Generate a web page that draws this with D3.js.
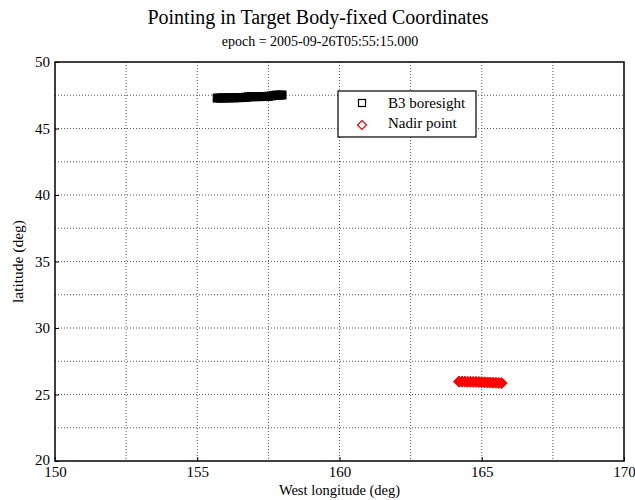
<!DOCTYPE html>
<html>
<head>
<meta charset="utf-8">
<script src="https://cdn.jsdelivr.net/npm/d3@7"></script>
<style>
  body { margin: 0; background: #fff; }
  svg { font-family: "Liberation Serif", "Times New Roman", serif; }
  .grid line { stroke: #555; stroke-dasharray: 1,2; }
  .axis path, .axis line { stroke: #000; }
</style>
</head>
<body>
<div id="chart"></div>
<script>
// B3 boresight track
const b3Lon = [155.70, 155.80, 155.90, 156.00, 156.10, 156.20, 156.30, 156.40, 156.50, 156.60, 156.70, 156.80,
  156.90, 157.00, 157.10, 157.20, 157.30, 157.40, 157.50, 157.60, 157.70, 157.80, 157.90, 157.98];
const b3Lat = [47.29, 47.29, 47.30, 47.30, 47.30, 47.31, 47.31, 47.32, 47.32, 47.33, 47.35, 47.38,
  47.39, 47.39, 47.40, 47.40, 47.40, 47.41, 47.42, 47.45, 47.49, 47.51, 47.51, 47.52];

// nadir point track
const nadirLon = [164.20, 164.30, 164.40, 164.50, 164.60, 164.70, 164.80, 164.90, 165.00, 165.10,
  165.20, 165.30, 165.40, 165.50, 165.60, 165.70];
const nadirLat = [25.97, 25.97, 25.97, 25.96, 25.96, 25.95, 25.95, 25.94, 25.93, 25.92,
  25.91, 25.90, 25.89, 25.88, 25.87, 25.86];

const xTicks = [150, 155, 160, 165, 170];
const yTicks = [20, 25, 30, 35, 40, 45, 50];
const xGrid = [152.5, 155, 157.5, 160, 162.5, 165, 167.5];
const yGrid = [22.5, 25, 27.5, 30, 32.5, 35, 37.5, 40, 42.5, 45, 47.5];
const legendNames = ['B3 boresight', 'Nadir point'];

const width = 635, height = 500;
const margin = {top: 62, right: 11, bottom: 39, left: 55};
const w = width - margin.left - margin.right;
const h = height - margin.top - margin.bottom;

const svg = d3.select('#chart').append('svg')
  .attr('width', width)
  .attr('height', height);

const x = d3.scaleLinear().domain([150, 170]).range([0, w]);
const y = d3.scaleLinear().domain([20, 50]).range([h, 0]);

const g = svg.append('g').attr('transform', `translate(${margin.left},${margin.top})`);

// grid
g.append('g').attr('class', 'grid')
  .selectAll('line').data(xGrid).enter().append('line')
  .attr('x1', d => x(d)).attr('x2', d => x(d))
  .attr('y1', 0).attr('y2', h);
g.append('g').attr('class', 'grid')
  .selectAll('line').data(yGrid).enter().append('line')
  .attr('x1', 0).attr('x2', w)
  .attr('y1', d => y(d)).attr('y2', d => y(d));

// axes
const xAxis = g.append('g').attr('class', 'axis')
  .attr('transform', `translate(0,${h})`)
  .call(d3.axisBottom(x).tickValues(xTicks).tickSize(-4).tickPadding(5).tickSizeOuter(0));
const yAxis = g.append('g').attr('class', 'axis')
  .call(d3.axisLeft(y).tickValues(yTicks).tickSize(-4).tickPadding(5).tickSizeOuter(0));
[xAxis, yAxis].forEach(a => {
  a.selectAll('text').style('font-family', 'Liberation Serif').style('font-size', '15px').attr('fill', '#000');
  a.select('.domain').remove();
});
// lowest y label sits a bit higher, like the reference
yAxis.selectAll('.tick text').filter(d => d === 20).attr('dy', '0.2em');

g.append('rect')
  .attr('width', w).attr('height', h)
  .attr('fill', 'none').attr('stroke', '#000').attr('stroke-width', 1.5);

// B3 boresight squares
const b3 = b3Lon.map((d, i) => ({lon: d, lat: b3Lat[i]}));
g.append('g').selectAll('rect').data(b3).enter().append('rect')
  .attr('x', d => x(d.lon) - 4)
  .attr('y', d => y(d.lat) - 4)
  .attr('width', 8).attr('height', 8)
  .attr('fill', '#000').attr('stroke', '#000');

// nadir diamonds
const nadir = nadirLon.map((d, i) => ({lon: d, lat: nadirLat[i]}));
const diamond = s => `M0,${-s}L${s},0L0,${s}L${-s},0Z`;
g.append('g').selectAll('path').data(nadir).enter().append('path')
  .attr('transform', d => `translate(${x(d.lon)},${y(d.lat)})`)
  .attr('d', diamond(5.5))
  .attr('fill', '#f00').attr('stroke', '#f00');

// legend
const lg = svg.append('g').attr('transform', 'translate(338,91)');
lg.append('rect').attr('width', 138).attr('height', 46)
  .attr('fill', '#fff').attr('stroke', '#000').attr('stroke-width', 1.2);
lg.append('rect').attr('x', 20.5).attr('y', 8.5).attr('width', 7).attr('height', 7)
  .attr('fill', 'none').attr('stroke', '#000').attr('stroke-width', 1.2);
lg.append('path').attr('transform', 'translate(24,34)').attr('d', diamond(4.5))
  .attr('fill', 'none').attr('stroke', '#f00').attr('stroke-width', 1.2);
lg.selectAll('text.lab').data(legendNames).enter().append('text')
  .attr('class', 'lab')
  .attr('x', 50).attr('y', (d, i) => 17 + i * 20)
  .style('font-size', '15px')
  .text(d => d);

// titles
svg.append('text').attr('x', 318).attr('y', 24)
  .attr('text-anchor', 'middle').style('font-size', '20px')
  .text('Pointing in Target Body-fixed Coordinates');
svg.append('text').attr('x', 320).attr('y', 46)
  .attr('text-anchor', 'middle').style('font-size', '14px')
  .text('epoch = 2005-09-26T05:55:15.000');
svg.append('text').attr('x', margin.left + w / 2).attr('y', 495)
  .attr('text-anchor', 'middle').style('font-size', '14.5px')
  .text('West longitude (deg)');
svg.append('text')
  .attr('transform', `translate(23,${margin.top + h / 2}) rotate(-90)`)
  .attr('text-anchor', 'middle').style('font-size', '15.5px')
  .text('latitude (deg)');
</script>
</body>
</html>
